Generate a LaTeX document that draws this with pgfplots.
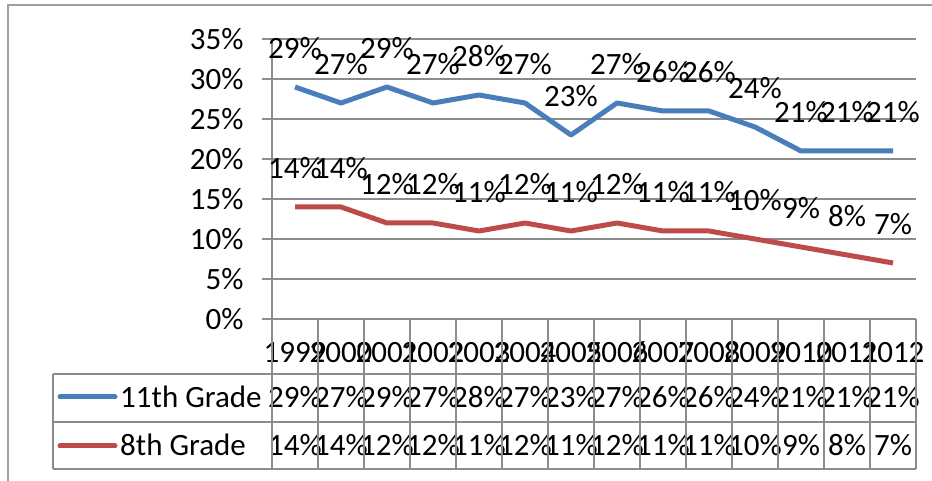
\documentclass[border=0pt]{standalone}
\usepackage{fontspec}
\setmainfont{Carlito}
\usepackage{pgfplots}
\pgfplotsset{compat=1.18}
\usepackage{pgfplotstable}
\definecolor{blueline}{HTML}{4A7EBB}
\definecolor{redline}{HTML}{BE4B48}
\definecolor{gridgray}{HTML}{8C8C8C}
\definecolor{bordergray}{HTML}{A0A0A0}
\pgfplotstableread{
x year g11 g8
0 1999 29 14
1 2000 27 14
2 2001 29 12
3 2002 27 12
4 2003 28 11
5 2004 27 12
6 2005 23 11
7 2006 27 12
8 2007 26 11
9 2008 26 11
10 2009 24 10
11 2010 21 9
12 2011 21 8
13 2012 21 7
}\datatable
\newcommand\bigfont{\fontsize{31}{37}\selectfont}
\begin{document}
\begin{tikzpicture}[x=1pt,y=1pt]
\begin{axis}[at={(272pt,162pt)}, anchor=south west, scale only axis,
  width=644pt, height=280pt,
  xmin=-0.5, xmax=13.5, ymin=0, ymax=35,
  ytick={0,5,...,35}, xtick=\empty,
  axis x line*=bottom, axis y line*=left,
  axis line style={-, draw=gridgray, line width=1.3pt},
  ymajorgrids, grid style={draw=gridgray, line width=1.3pt},
  tick align=outside, major tick length=10pt,
  tick style={draw=gridgray, line width=1.3pt},
  yticklabel={\pgfmathprintnumber{\tick}\%},
  /pgf/number format/assume math mode=true,
  tick label style={font=\bigfont},
  yticklabel style={xshift=-15pt},
  clip=false]
\addplot[blueline, line width=5pt, line join=round,
  nodes near coords={\pgfmathprintnumber{\pgfplotspointmeta}\%},
  every node near coord/.append style={anchor=base, yshift=28pt, inner sep=0pt, font=\bigfont, text=black}]
  table[x=x,y=g11]{\datatable};
\addplot[redline, line width=5pt, line join=round,
  nodes near coords={\pgfmathprintnumber{\pgfplotspointmeta}\%},
  every node near coord/.append style={anchor=base, yshift=28pt, inner sep=0pt, font=\bigfont, text=black}]
  table[x=x,y=g8]{\datatable};
% data table rows below the axis
\addplot[draw=none, point meta=explicit symbolic, nodes near coords,
  every node near coord/.append style={anchor=base, yshift=0pt, inner sep=0pt, font=\bigfont, text=black}]
  table[x=x, y expr=-5.5, meta=year]{\datatable};
\addplot[draw=none, point meta=explicit,
  nodes near coords={\pgfmathprintnumber{\pgfplotspointmeta}\%},
  every node near coord/.append style={anchor=base, yshift=0pt, inner sep=0pt, font=\bigfont, text=black}]
  table[x=x, y expr=-11.1, meta=g11]{\datatable};
\addplot[draw=none, point meta=explicit,
  nodes near coords={\pgfmathprintnumber{\pgfplotspointmeta}\%},
  every node near coord/.append style={anchor=base, yshift=0pt, inner sep=0pt, font=\bigfont, text=black}]
  table[x=x, y expr=-17.05, meta=g8]{\datatable};
\end{axis}
% table frame
\begin{scope}[gridgray, line width=1.3pt]
\foreach \k in {0,...,14} \draw ({272+46*\k},162) -- ({272+46*\k},12);
\draw (53,107) -- (916,107);
\draw (53,59) -- (916,59);
\draw (53,12) -- (916,12);
\draw (53,107) -- (53,12);
\end{scope}
% legend keys
\draw[blueline, line width=5pt, line cap=round] (60,84) -- (115,84);
\node[anchor=base west, inner sep=0pt, font=\bigfont] at (120,73) {11th Grade};
\draw[redline, line width=5pt, line cap=round] (60,35) -- (115,35);
\node[anchor=base west, inner sep=0pt, font=\bigfont] at (120,25.5) {8th Grade};
% outer chart border
\draw[bordergray, line width=2pt] (8,0) -- (8,476) -- (932,476);
\pgfresetboundingbox
\path (0,0) rectangle (932,481);
\end{tikzpicture}
\end{document}
